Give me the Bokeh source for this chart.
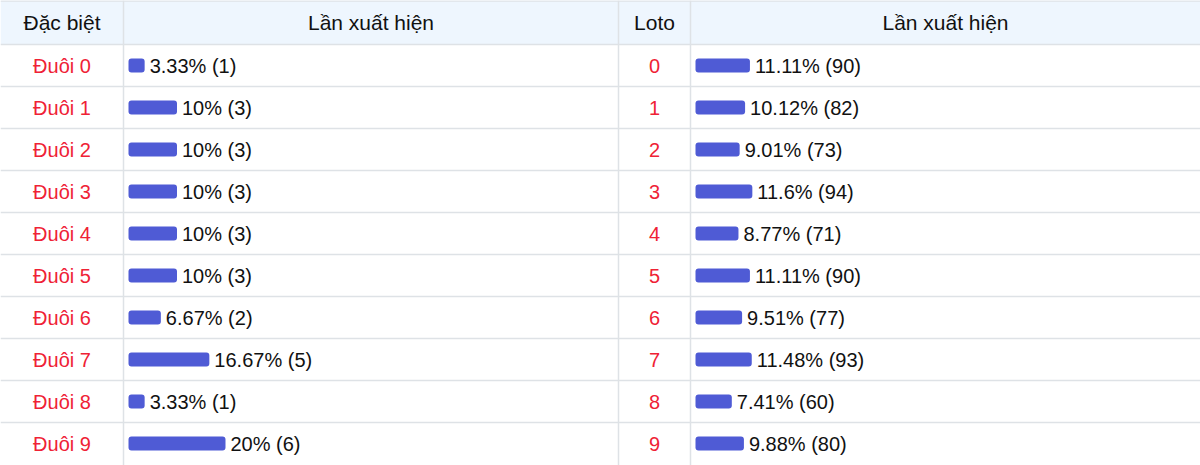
from bokeh.plotting import figure
from bokeh.models import Range1d, ColumnDataSource
from bokeh.core.properties import value
from bokeh.embed import file_html
from bokeh.resources import INLINE

# ---- data ----
header_labels = ["Đặc biệt", "Lần xuất hiện", "Loto", "Lần xuất hiện"]
special_labels = ["Đuôi 0", "Đuôi 1", "Đuôi 2", "Đuôi 3", "Đuôi 4",
                  "Đuôi 5", "Đuôi 6", "Đuôi 7", "Đuôi 8", "Đuôi 9"]
special_pct = [3.33, 10, 10, 10, 10, 10, 6.67, 16.67, 3.33, 20]
special_count = [1, 3, 3, 3, 3, 3, 2, 5, 1, 6]
loto_labels = ["0", "1", "2", "3", "4", "5", "6", "7", "8", "9"]
loto_pct = [11.11, 10.12, 9.01, 11.6, 8.77, 11.11, 9.51, 11.48, 7.41, 9.88]
loto_count = [90, 82, 73, 94, 71, 90, 77, 93, 60, 80]

# ---- layout (pixel space) ----
W, H = 1200, 465
HEADER_H = 44
ROW_H = 42
col_edges = [0, 123, 618, 690, 1200]
col_centers = [(col_edges[i] + col_edges[i + 1]) / 2 for i in range(4)]
PX_PER_PCT_SPECIAL = 4.85
PX_PER_PCT_LOTO = 4.9
BAR_PAD = 5
FONT = "Liberation Sans"
RED = "#ef2235"
BAR = "#4f5bd5"
GRID = "#dee2e6"

p = figure(width=W, height=H, x_range=Range1d(0, W), y_range=Range1d(H, 0),
           output_backend="svg", toolbar_location=None, min_border=0)
p.axis.visible = False
p.grid.visible = False
p.outline_line_color = None
p.background_fill_color = "white"
p.border_fill_color = "white"

# header background
p.quad(left=[0], right=[W], top=[0], bottom=[HEADER_H], fill_color="#eef6fe", line_color=None)

n = len(special_labels)
row_y = [HEADER_H + ROW_H * i + ROW_H / 2 for i in range(n)]

# grid lines
hy = [0.5] + [HEADER_H + ROW_H * i for i in range(n)]
p.segment(x0=[0] * len(hy), x1=[W] * len(hy), y0=hy, y1=hy, line_color=GRID, line_width=1.5)
vx = col_edges[1:4]
p.segment(x0=vx, x1=vx, y0=[0] * len(vx), y1=[H] * len(vx), line_color=GRID, line_width=1.5)

# header texts
p.text(x=col_centers, y=[HEADER_H / 2] * 4, text=header_labels, text_align="center",
       text_baseline="middle", text_font=value(FONT), text_font_size="21px", text_color="#111111")

# first and third column labels
p.text(x=[col_centers[0]] * n, y=row_y, text=special_labels, text_align="center",
       text_baseline="middle", text_font=value(FONT), text_font_size="20px", text_color=RED)
p.text(x=[col_centers[2]] * n, y=row_y, text=loto_labels, text_align="center",
       text_baseline="middle", text_font=value(FONT), text_font_size="20px", text_color=RED)

def bars(pcts, counts, x0, k):
    left = [x0] * len(pcts)
    right = [x0 + v * k for v in pcts]
    src = ColumnDataSource(dict(
        y=row_y, left=left, right=right,
        tx=[r + BAR_PAD for r in right],
        label=[f"{v:g}% ({c})" for v, c in zip(pcts, counts)]))
    p.hbar(y="y", left="left", right="right", height=14, source=src,
           fill_color=BAR, line_color=None, border_radius=3)
    p.text(x="tx", y="y", text="label", source=src, text_align="left",
           text_baseline="middle", text_font=value(FONT), text_font_size="20px",
           text_color="#111111")

bars(special_pct, special_count, col_edges[1] + 5, PX_PER_PCT_SPECIAL)
bars(loto_pct, loto_count, col_edges[3] + 5, PX_PER_PCT_LOTO)

open("out.html", "w").write(file_html(p, INLINE))
